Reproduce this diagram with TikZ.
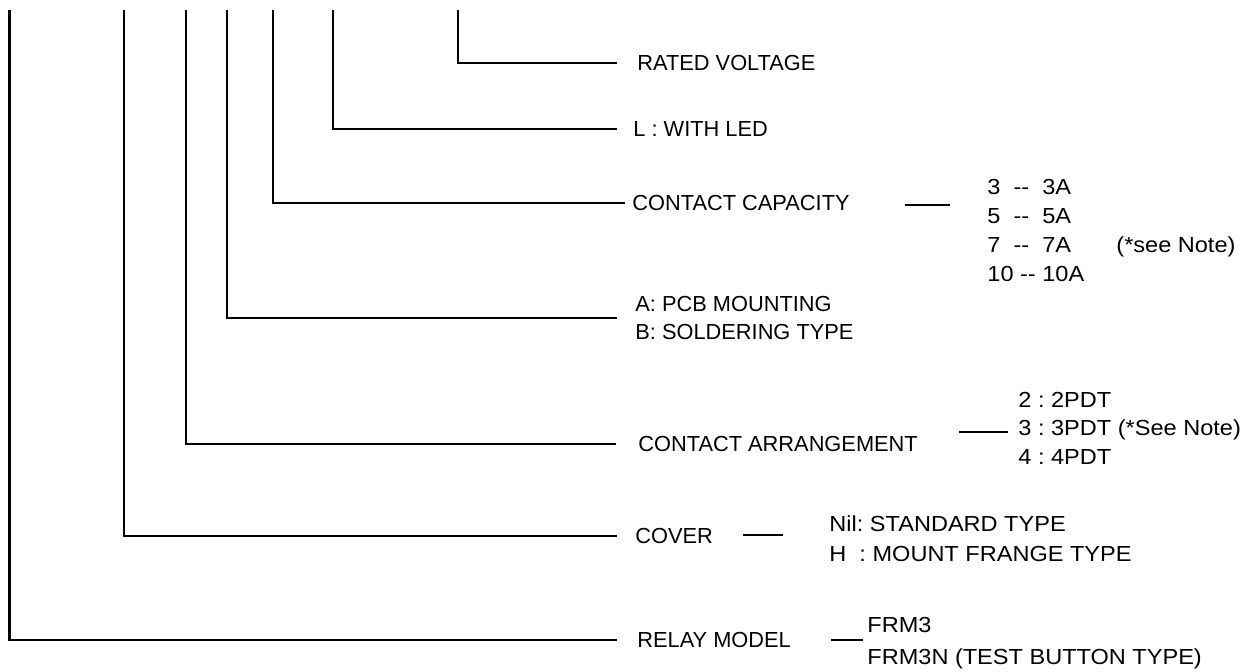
\documentclass[tikz,border=0pt]{standalone}
\usepackage{fontspec}
\setmainfont{Liberation Sans}
\newfontfamily\choicefont[FakeStretch=1.08]{Liberation Sans}
\usetikzlibrary{positioning}
\frenchspacing

\begin{document}
\begin{tikzpicture}[x=.5pt, y=-.5pt]
  \tikzset{
   wire/.style={line width=1.3pt},
   tick/.style={line width=.9pt},
   item/.style={anchor=west, inner sep=0pt, font=\fontsize{10.9pt}{14pt}\selectfont},
   one/.style={item, text height=.72em, text depth=0pt},
   two/.style={item, align=left},
   choice/.style={one, font=\fontsize{10.9pt}{14pt}\choicefont},
  }
  \useasboundingbox (0,0) rectangle (1256,671);

  % one heading per digit of the code, each with its own drop line
  \foreach \n/\tx/\ly/\lx/\gap/\st/\txt in {
   rated/458/63/637/10pt/one/{RATED VOLTAGE},
   led/333/129/633/8pt/one/{L : WITH LED},
   capacity/273/203/632/3.5pt/one/{CONTACT CAPACITY},
   mounting/227/318/635/9pt/two/{A: PCB MOUNTING\\B: SOLDERING TYPE},
   arrangement/186/444/638/11pt/one/{CONTACT ARRANGEMENT},
   cover/124/536/635/9pt/one/{COVER},
   model/9.5/640/637/10pt/one/{RELAY MODEL}
  } {
   \coordinate (\n-top) at (\tx, 10);
   \node [\st] (\n) at (\lx, \ly) {\txt};
   \draw [wire, shorten >=\gap] (\n-top) |- (\n.west);
  }

  % choices
  \foreach \t [count=\i] in {3 \ -{}- \ 3A, 5 \ -{}- \ 5A, 7 \ -{}- \ 7A, 10 -{}- 10A}
   \node [choice] (capacity-\i) at (987, 158.5+\i*29) {\t};
  \node [choice] (capacity-note) at (1116, 245.5) {(*see Note)};
  \foreach \t [count=\i] in {2 : 2PDT, 3 : 3PDT (*See Note), 4 : 4PDT}
   \node [choice] (arrangement-\i) at (1018, 371.5+\i*28.5) {\t};
  \foreach \t [count=\i] in {Nil: STANDARD TYPE, H \ : MOUNT FRANGE TYPE}
   \node [choice] (cover-\i) at (829, 493.5+\i*30.5) {\t};
  \foreach \t [count=\i] in {FRM3, FRM3N (TEST BUTTON TYPE)}
   \node [choice] (model-\i) at (867, 594+\i*31.5) {\t};

  % short dashes between heading and choices
  \foreach \n/\a/\b/\y in {
   capacity/905/950/205,
   arrangement/959/1008/432,
   cover/743/783/535,
   model/831/863/640
  } {
   \coordinate (\n-a) at (\a, \y);
   \coordinate (\n-b) at (\b, \y);
   \draw [tick] (\n-a) -- (\n-b);
  }
\end{tikzpicture}
\end{document}
